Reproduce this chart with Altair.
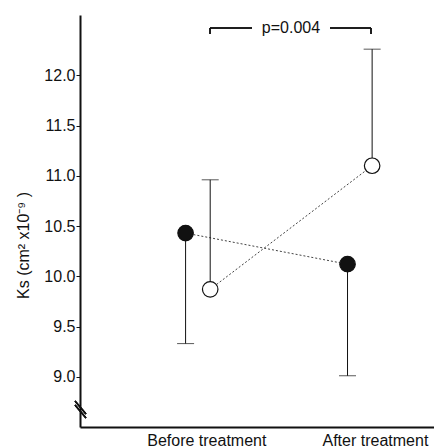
import altair as alt
import pandas as pd

groups = ["Before treatment", "After treatment"]
filled_mean = [10.43, 10.12]
filled_low = [9.33, 9.01]
open_mean = [9.87, 11.10]
open_high = [10.96, 12.26]
p_label = "p=0.004"

rows = []
for i, g in enumerate(groups):
    rows.append({"group": g, "gi": i, "series": "filled", "mean": filled_mean[i], "bound": filled_low[i]})
    rows.append({"group": g, "gi": i, "series": "open", "mean": open_mean[i], "bound": open_high[i]})
df = pd.DataFrame(rows)

FONT = "Liberation Sans"
FS = 16
OFF = 0.076

xscale = alt.Scale(domain=[-0.728, 1.458], nice=False, zero=False)
yscale = alt.Scale(domain=[8.5, 12.6], nice=False, zero=False)

xaxis = alt.Axis(values=[0, 1], labelExpr="datum.value == 0 ? 'Before treatment' : 'After treatment'",
                 ticks=False, grid=False, title=None, labelAlign="right",
                 labelOffset=68, labelPadding=5, labelFlush=False, labelOverlap=False)
yaxis = alt.Axis(values=[9.0, 9.5, 10.0, 10.5, 11.0, 11.5, 12.0], format=".1f", grid=False,
                 title="Ks  (cm² x10⁻⁹ )", titlePadding=12, titleY=230, labelPadding=1, tickSize=4)

base = alt.Chart(df).transform_calculate(
    xpos=f"datum.gi + (datum.series == 'filled' ? {-OFF} : {OFF})"
)
X = alt.X("xpos:Q", scale=xscale, axis=xaxis)
Y = alt.Y("mean:Q", scale=yscale, axis=yaxis)

lines = base.mark_line(color="#444", strokeWidth=1, strokeDash=[2, 2]).encode(
    x=X, y=Y, detail="series:N"
)
err = base.mark_rule(color="#111", strokeWidth=1).encode(
    x=alt.X("xpos:Q", scale=xscale), y=alt.Y("mean:Q", scale=yscale), y2="bound:Q"
)
caps = base.mark_tick(orient="horizontal", size=17, thickness=1, color="#111").encode(
    x=alt.X("xpos:Q", scale=xscale), y=alt.Y("bound:Q", scale=yscale)
)
pts = base.mark_point(size=240, filled=True, opacity=1, strokeWidth=1.2, stroke="#111").encode(
    x=alt.X("xpos:Q", scale=xscale), y=alt.Y("mean:Q", scale=yscale),
    fill=alt.Fill("series:N", scale=alt.Scale(domain=["filled", "open"], range=["#111", "#ffffff"]), legend=None),
)

# p-value bracket annotation
br1 = alt.Chart(df).mark_rule(color="#111", strokeWidth=1).encode(
    x=alt.value(130), x2=alt.value(172), y=alt.value(13))
br2 = alt.Chart(df).mark_rule(color="#111", strokeWidth=1).encode(
    x=alt.value(250), x2=alt.value(291), y=alt.value(13))
br3 = alt.Chart(df).mark_rule(color="#111", strokeWidth=1).encode(
    x=alt.value(130), y=alt.value(13), y2=alt.value(19))
br4 = alt.Chart(df).mark_rule(color="#111", strokeWidth=1).encode(
    x=alt.value(291), y=alt.value(13), y2=alt.value(19))
ptxt = alt.Chart(pd.DataFrame({"t": [p_label]})).mark_text(
    font=FONT, fontSize=FS, color="#111", baseline="middle", align="center"
).encode(text="t:N", x=alt.value(211), y=alt.value(13))

# axis break marks
bk1 = alt.Chart(df).mark_rule(color="#111", strokeWidth=1.3).encode(
    x=alt.value(-5), x2=alt.value(6), y=alt.value(386), y2=alt.value(399))
bk2 = alt.Chart(df).mark_rule(color="#111", strokeWidth=1.3).encode(
    x=alt.value(-5), x2=alt.value(6), y=alt.value(390), y2=alt.value(403))

chart = alt.layer(lines, err, caps, pts, br1, br2, br3, br4, ptxt, bk1, bk2).properties(
    width=354, height=412,
    autosize=alt.AutoSizeParams(type="none"),
    padding={"left": 72, "top": 7, "right": 0, "bottom": 20},
).configure_view(stroke=None).configure_axis(
    labelFont=FONT, labelFontSize=FS, labelColor="#111",
    titleFont=FONT, titleFontSize=FS, titleFontWeight="normal", titleColor="#111",
    domainWidth=2, domainColor="#111", tickColor="#111", tickWidth=1,
)

chart.save("out.html", embed_options={"renderer": "svg", "actions": False})
